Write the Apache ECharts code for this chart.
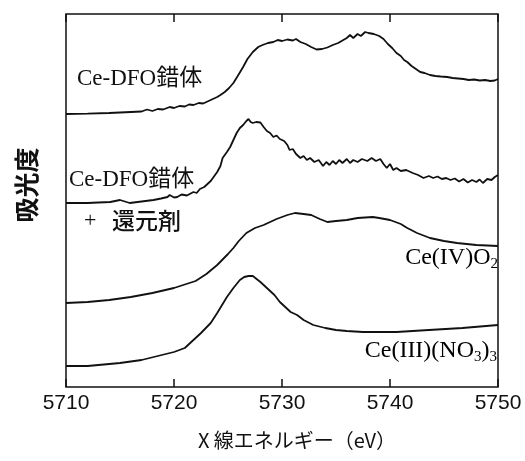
<!DOCTYPE html>
<html><head><meta charset="utf-8">
<script src="https://cdn.jsdelivr.net/npm/echarts@6/dist/echarts.min.js"></script>
<style>html,body{margin:0;padding:0;background:#fff}#c{width:525px;height:461px}</style>
</head><body><div id="c"></div>
<script>
// X-ray energy (eV) and relative absorbance (arbitrary units, offset per spectrum)
const xTicks = [5710, 5720, 5730, 5740, 5750];

const dfoE = [5710.0,5712.0,5714.0,5716.0,5717.0,5717.5,5718.0,5718.5,5719.0,5719.6,5720.0,5720.5,5721.0,5721.4,5721.8,5722.3,5722.7,5723.1,5723.6,5724.0,5724.3,5724.7,5725.1,5725.5,5725.9,5726.4,5726.8,5727.3,5727.8,5728.2,5728.7,5729.2,5729.6,5730.0,5730.5,5731.0,5731.3,5731.7,5732.2,5732.7,5733.2,5733.7,5734.2,5734.7,5735.2,5735.6,5736.0,5736.3,5736.6,5737.0,5737.3,5737.7,5738.0,5738.5,5739.0,5739.4,5739.8,5740.2,5740.6,5741.0,5741.3,5741.6,5742.0,5742.4,5742.8,5743.2,5743.7,5744.2,5744.7,5745.3,5745.8,5746.3,5746.8,5747.3,5747.8,5748.3,5748.8,5749.3,5749.7,5750.0];
const dfoA = [273,273.3,274,275,275.5,277.5,276,278,277.5,280,279,281,280.5,282.5,282,284,283.5,285.5,288,290,292,295,299,304,311,320,328,335,340,342,344,345,347,346,347.5,346.5,348,345,343,340,337.5,338,339.5,342,344,346.5,349,352,349,353,351,355,354,353,351,348,343,339,334,331,327,325,321,318,315,314,312,311,310.5,310,309,308.5,308,307,307.5,306.5,307,306,306.5,308];

const redE = [5710.0,5712.0,5713.0,5714.1,5715.0,5715.9,5717.0,5718.1,5718.8,5719.4,5719.6,5720.0,5720.3,5720.7,5721.2,5721.8,5722.1,5722.4,5722.8,5723.1,5723.4,5723.6,5724.0,5724.3,5724.5,5724.9,5725.2,5725.5,5725.8,5726.1,5726.4,5726.7,5726.9,5727.1,5727.3,5727.6,5728.0,5728.3,5728.6,5728.9,5729.2,5729.5,5729.8,5730.2,5730.5,5730.7,5731.0,5731.3,5731.7,5732.0,5732.3,5732.6,5733.0,5733.4,5733.8,5734.1,5734.4,5734.7,5735.0,5735.3,5735.6,5736.0,5736.3,5736.6,5737.0,5737.4,5737.9,5738.3,5738.7,5739.1,5739.4,5739.7,5740.0,5740.3,5740.6,5741.0,5741.5,5742.1,5742.6,5743.1,5743.6,5744.0,5744.4,5744.8,5745.2,5745.6,5746.0,5746.4,5746.8,5747.2,5747.6,5748.0,5748.3,5748.6,5749.0,5749.4,5749.7,5750.0];
const redA = [184,184,184.5,185,187,184,185.5,187,188.5,190,192,189.5,190,192.5,191.5,195,194,198,200,203,206,209,215,221,229,235,240,247,254,259,262,266,268,265,264,265,264.5,260,256,254,250,251.5,248,246,242,237,238,233,229,231,227,229,225,227,221,225,222,226,223,227,224,228,224,227,225,228,226,229,226,228,223,219,223,217,219,216,217,214,212,209,211,209,210.5,208,209,207,208.5,205.5,208,204.5,207,205,207.5,204,208,207,210,212];

const ceo2E = [5710,5712,5714,5716,5718,5720,5722,5723,5724,5725,5725.5,5726,5726.7,5727.5,5728.3,5729.5,5730.5,5731.2,5732.0,5732.7,5733.5,5734.2,5735,5736,5737,5738.4,5739,5740,5741,5741.6,5742.5,5743.7,5745,5746.2,5748,5750];
const ceo2A = [84,85,87,90,94,99,106,113,122,133,139,146,154,159,162,168,172,174,173,172,168,165,166,167,169,170,169,167,163,159,154,149,146,144,142,141];

const nitE = [5710,5712,5715,5717,5720,5721,5721.8,5722.5,5723.4,5724,5724.9,5725.5,5726.1,5726.5,5726.9,5727.3,5728,5728.6,5729.3,5729.8,5730.8,5731.4,5732,5732.9,5734,5735,5736,5737.5,5740.6,5743.6,5746.7,5750];
const nitA = [21,21,24,27,35,39,47,54,64,74,90,99,107,110,111,111,105,99,92,85,75,72,67,62,59,57,56,55,55,57,59,62];

const zip = (e, a) => e.map((v, i) => [v, a[i]]);

const serif = '"Liberation Serif", "Noto Sans CJK JP", serif';
const cjk = '"Noto Sans CJK JP", sans-serif';
const sans = '"Liberation Sans", Arial, sans-serif';

const chart = echarts.init(document.getElementById('c'), null, {renderer: 'canvas'});
const lineStyle = {color: '#111', width: 1.8};
const mk = (data) => ({type: 'line', data, showSymbol: false, symbol: 'none', smooth: false, lineStyle, animation: false, silent: true});

chart.setOption({
  animation: false,
  backgroundColor: '#fff',
  grid: {left: 66, right: 27, top: 14, bottom: 74, show: true, borderColor: '#111', borderWidth: 1.5, backgroundColor: 'transparent'},
  xAxis: [
    {type: 'value', min: xTicks[0], max: xTicks[xTicks.length - 1], interval: 10, position: 'bottom',
     axisLine: {show: false}, splitLine: {show: false},
     axisTick: {show: true, inside: true, length: 8, lineStyle: {color: '#111', width: 1.5}},
     axisLabel: {show: true, margin: 6, fontSize: 21, color: '#111', fontFamily: sans,
                 formatter: (v) => String(v)}},
    {type: 'value', min: xTicks[0], max: xTicks[xTicks.length - 1], interval: 10, position: 'top',
     axisLine: {show: false}, splitLine: {show: false}, axisLabel: {show: false},
     axisTick: {show: true, inside: true, length: 8, lineStyle: {color: '#111', width: 1.5}}}
  ],
  yAxis: {type: 'value', min: 0, max: 373, show: true, axisLine: {show: false}, axisTick: {show: false},
          axisLabel: {show: false}, splitLine: {show: false}},
  series: [mk(zip(dfoE, dfoA)), mk(zip(redE, redA)), mk(zip(ceo2E, ceo2A)), mk(zip(nitE, nitA))],
  graphic: [
    {type: 'text', left: 77, top: 67, style: {text: 'Ce-DFO錯体', font: '23px ' + serif, fill: '#111'}},
    {type: 'text', left: 69, top: 168, style: {text: 'Ce-DFO錯体', font: '23px ' + serif, fill: '#111'}},
    {type: 'text', left: 84, top: 210, style: {text: '+', font: '22px ' + serif, fill: '#111'}},
    {type: 'text', left: 112, top: 209, style: {text: '還元剤', font: '500 23px ' + cjk, fill: '#111'}},
    {type: 'text', right: 27, top: 246, style: {text: '{a|Ce(IV)O}{s|2}', rich: {
      a: {fontFamily: serif, fontSize: 24, color: '#111'},
      s: {fontFamily: serif, fontSize: 15, color: '#111', verticalAlign: 'bottom', padding: [12, 0, 0, 0]}}}},
    {type: 'text', right: 28, top: 339, style: {text: '{a|Ce(III)(NO}{s|3}{a|)}{s|3}', rich: {
      a: {fontFamily: serif, fontSize: 24, color: '#111'},
      s: {fontFamily: serif, fontSize: 15, color: '#111', verticalAlign: 'bottom', padding: [12, 0, 0, 0]}}}},
    {type: 'text', x: 26, y: 185, rotation: Math.PI / 2, style: {text: '吸光度', font: 'bold 25px ' + cjk, fill: '#111', align: 'center', verticalAlign: 'middle'}},
    {type: 'text', x: 297, y: 440, style: {text: 'X 線エネルギー（eV）', font: '20px ' + cjk, fill: '#111', align: 'center', verticalAlign: 'middle'}}
  ]
});
</script></body></html>
